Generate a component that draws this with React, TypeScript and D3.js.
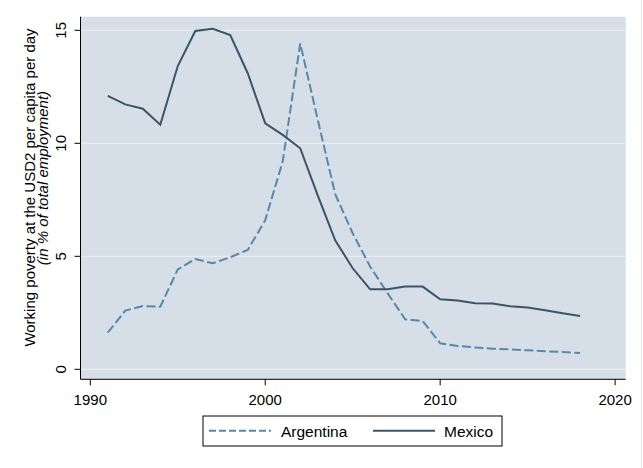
import * as d3 from 'd3';
import React, { FC, useEffect } from 'react';

const years = [
  1991, 1992, 1993, 1994, 1995, 1996, 1997, 1998, 1999, 2000, 2001, 2002, 2003, 2004,
  2005, 2006, 2007, 2008, 2009, 2010, 2011, 2012, 2013, 2014, 2015, 2016, 2017, 2018
];

const argentina = [
  1.62, 2.6, 2.8, 2.77, 4.42, 4.88, 4.69, 4.96, 5.28, 6.6, 9.2, 14.42, 11.05, 7.75,
  6.02, 4.54, 3.36, 2.21, 2.14, 1.15, 1.03, 0.97, 0.91, 0.88, 0.84, 0.8, 0.77, 0.72
];

const mexico = [
  12.1, 11.72, 11.53, 10.82, 13.42, 14.97, 15.07, 14.79, 13.1, 10.88, 10.37, 9.78, 7.7, 5.71,
  4.47, 3.54, 3.54, 3.66, 3.66, 3.1, 3.04, 2.92, 2.91, 2.79, 2.73, 2.61, 2.48, 2.36
];

const xTicks = [1990, 2000, 2010, 2020];
const yTicks = [0, 5, 10, 15];

const seriesNames = ['Argentina', 'Mexico'];

const W = 643;
const H = 468;
const plot = { left: 80.5, right: 625.7, top: 16.7, bottom: 379.3 };
const font = '"Liberation Sans", Arial, sans-serif';
const colArg = '#5a87a7';
const colMex = '#3a5468';

const App: FC = (): JSX.Element => {
  useEffect(() => {
    document.body.style.margin = '0';
  }, []);

  const x = d3.scaleLinear().domain([1990, 2020]).range([90.3, 615.1]);
  const y = d3.scaleLinear().domain([0, 15]).range([369.3, 30.3]);

  const line = d3
    .line<number>()
    .x((_, i) => x(years[i]))
    .y((d) => y(d));

  return (
    <svg width={W} height={H} style={{ display: 'block', background: '#ffffff' }}>
      <line x1={641.5} x2={641.5} y1={0} y2={H} stroke="#e6ecf0" />
      <rect
        x={plot.left}
        y={plot.top}
        width={plot.right - plot.left}
        height={plot.bottom - plot.top}
        fill="#d6dfe7"
      />
      {yTicks.map((t) => (
        <line
          key={'g' + t}
          x1={plot.left}
          x2={plot.right}
          y1={y(t)}
          y2={y(t)}
          stroke="#edf1f5"
          strokeWidth={1}
        />
      ))}

      <path
        d={line(argentina) || ''}
        fill="none"
        stroke={colArg}
        strokeWidth={2}
        strokeDasharray="9,3.5"
      />
      <path d={line(mexico) || ''} fill="none" stroke={colMex} strokeWidth={2} />

      {/* axes */}
      <line x1={plot.left} x2={plot.left} y1={plot.top} y2={plot.bottom} stroke="#000" />
      <line x1={plot.left} x2={plot.right} y1={plot.bottom} y2={plot.bottom} stroke="#000" />

      {yTicks.map((t) => (
        <g key={'y' + t}>
          <line x1={plot.left - 6} x2={plot.left} y1={y(t)} y2={y(t)} stroke="#000" />
          <text
            transform={`translate(${plot.left - 15}, ${y(t)}) rotate(-90)`}
            textAnchor="middle"
            fontFamily={font}
            fontSize={15}
            fill="#000"
          >
            {t}
          </text>
        </g>
      ))}

      {xTicks.map((t) => (
        <g key={'x' + t}>
          <line x1={x(t)} x2={x(t)} y1={plot.bottom} y2={plot.bottom + 6} stroke="#000" />
          <text x={x(t)} y={404.5} textAnchor="middle" fontFamily={font} fontSize={15} fill="#000">
            {t}
          </text>
        </g>
      ))}

      <text
        transform="translate(34.5, 187.5) rotate(-90)"
        textAnchor="middle"
        fontFamily={font}
        fontSize={15}
        fill="#000"
      >
        Working poverty at the USD2 per capita per day
      </text>
      <text
        transform="translate(47.5, 178) rotate(-90)"
        textAnchor="middle"
        fontFamily={font}
        fontSize={15}
        fontStyle="italic"
        fill="#000"
      >
        (in % of total employment)
      </text>

      {/* legend */}
      <rect x={203} y={416} width={299} height={30} fill="#fff" stroke="#000" />
      <line x1={209} x2={271} y1={430.7} y2={430.7} stroke={colArg} strokeWidth={2} strokeDasharray="7,3" />
      <text x={281} y={437} fontFamily={font} fontSize={15.5} fill="#000">
        {seriesNames[0]}
      </text>
      <line x1={373} x2={435} y1={430.7} y2={430.7} stroke={colMex} strokeWidth={2} />
      <text x={444} y={437} fontFamily={font} fontSize={15.5} fill="#000">
        {seriesNames[1]}
      </text>
    </svg>
  );
};

export default App;
